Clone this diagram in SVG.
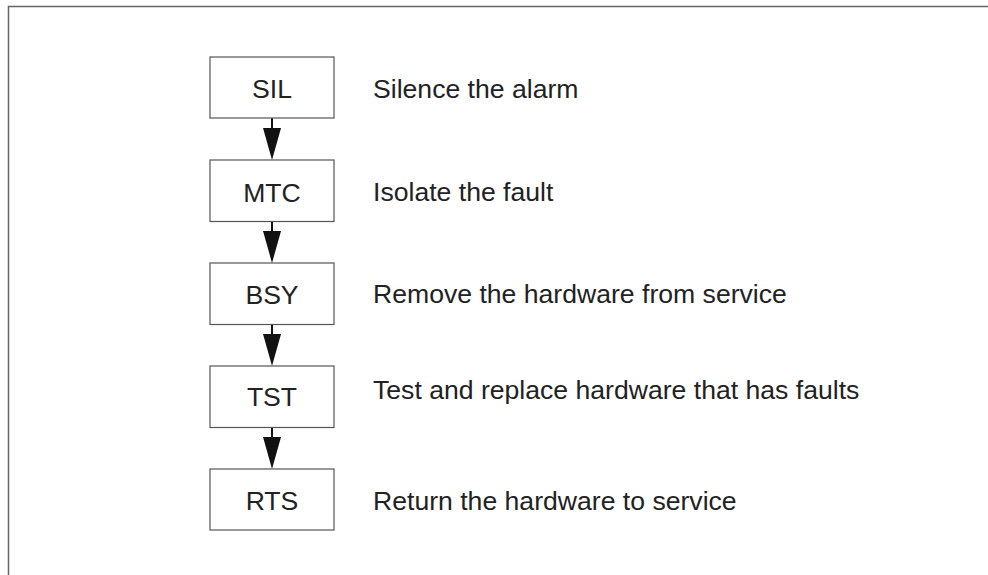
<svg xmlns="http://www.w3.org/2000/svg" width="988" height="575" viewBox="0 0 988 575">
  <style>
    .frame { fill: none; stroke: #666; stroke-width: 1.5; }
    .box { fill: #fff; stroke: #555; stroke-width: 1.2; }
    .label { font-family: "Liberation Sans", Arial, sans-serif; font-size: 26.6px; fill: #222; text-anchor: middle; }
    .desc { font-family: "Liberation Sans", Arial, sans-serif; font-size: 26.6px; fill: #222; }
    .link { stroke: #111; stroke-width: 2; fill: none; }
    .head { fill: #111; }
  </style>
  <defs>
    <!-- downward arrowhead, tip at origin -->
    <path id="arrowhead" class="head" d="M-9,-32 L9,-32 L0,0 Z"/>
  </defs>

  <rect width="988" height="575" fill="#fff"/>
  <!-- outer frame: top and left edges only -->
  <path class="frame" d="M8.5,575 L8.5,6.5 L988,6.5"/>

  <g id="connectors">
    <line class="link" x1="272" y1="118" x2="272" y2="130"/>
    <use href="#arrowhead" x="272" y="160"/>
    <line class="link" x1="272" y1="221.5" x2="272" y2="233"/>
    <use href="#arrowhead" x="272" y="263"/>
    <line class="link" x1="272" y1="324.5" x2="272" y2="336"/>
    <use href="#arrowhead" x="272" y="366"/>
    <line class="link" x1="272" y1="427.5" x2="272" y2="439"/>
    <use href="#arrowhead" x="272" y="469"/>
  </g>

  <g id="node-sil">
    <rect class="box" x="210" y="57" width="124" height="61"/>
    <text class="label" x="272" y="98">SIL</text>
    <text class="desc" x="373" y="98">Silence the alarm</text>
  </g>
  <g id="node-mtc">
    <rect class="box" x="210" y="160" width="124" height="61.5"/>
    <text class="label" x="272" y="201.5">MTC</text>
    <text class="desc" x="373" y="201">Isolate the fault</text>
  </g>
  <g id="node-bsy">
    <rect class="box" x="210" y="263" width="124" height="61.5"/>
    <text class="label" x="272" y="303.5">BSY</text>
    <text class="desc" x="373" y="303">Remove the hardware from service</text>
  </g>
  <g id="node-tst">
    <rect class="box" x="210" y="366" width="124" height="61.5"/>
    <text class="label" x="272" y="406">TST</text>
    <text class="desc" x="373" y="399">Test and replace hardware that has faults</text>
  </g>
  <g id="node-rts">
    <rect class="box" x="210" y="469" width="124" height="61"/>
    <text class="label" x="272" y="510">RTS</text>
    <text class="desc" x="373" y="510">Return the hardware to service</text>
  </g>
</svg>
